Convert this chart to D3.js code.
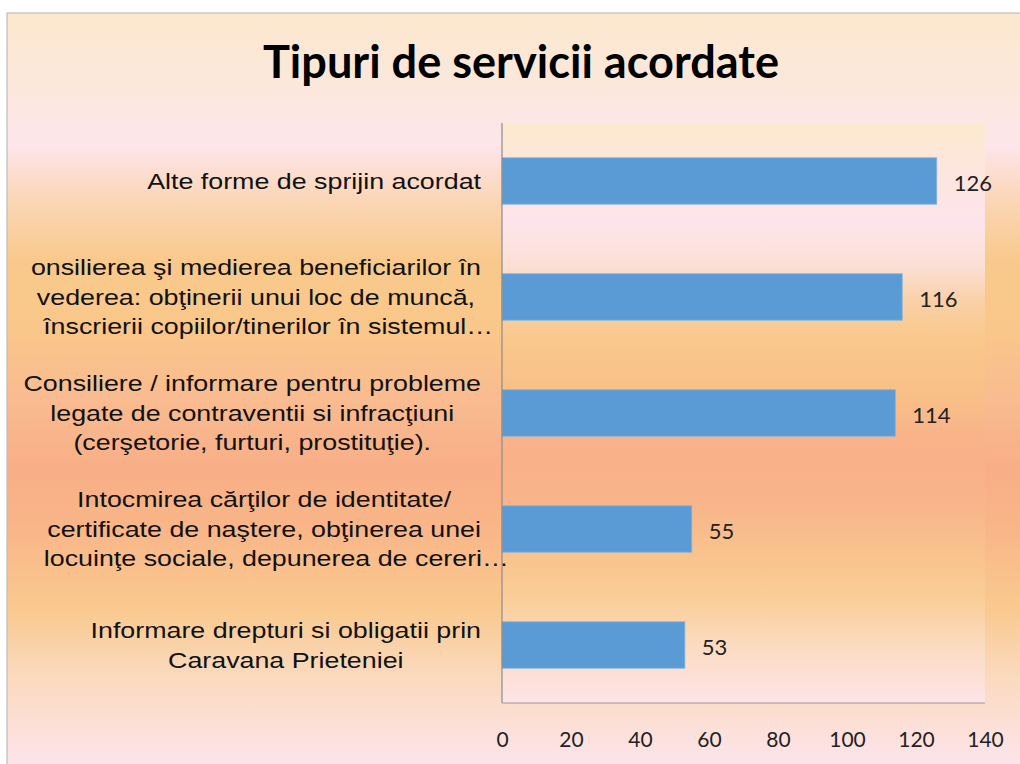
<!DOCTYPE html>
<html>
<head>
<meta charset="utf-8">
<script src="https://cdn.jsdelivr.net/npm/d3@7"></script>
<style>
  body { margin: 0; background: #fff; }
  svg { display: block; }
</style>
</head>
<body>
<div id="chart"></div>
<script>
// data, top to bottom as in the chart
var categories = [
  "Alte forme de sprijin acordat",
  "onsilierea şi medierea beneficiarilor în\nvederea: obţinerii unui loc de muncă,\nînscrierii copiilor/tinerilor în sistemul…",
  "Consiliere / informare pentru probleme\nlegate de contraventii si infracţiuni\n(cerşetorie, furturi, prostituţie).",
  "Intocmirea cărţilor de identitate/\ncertificate de naştere, obţinerea unei\nlocuinţe sociale, depunerea de cereri…",
  "Informare drepturi si obligatii prin\nCaravana Prieteniei"
];
var values = [126, 116, 114, 55, 53];
var xTicks = [0, 20, 40, 60, 80, 100, 120, 140];
var title = "Tipuri de servicii acordate";

var W = 1020, H = 764;
var margin = { top: 123, right: 35, bottom: 61, left: 502 };

var svg = d3.select("#chart").append("svg")
    .attr("width", W)
    .attr("height", H);

var defs = svg.append("defs");

function addGradient(id, y1, y2, stops) {
  var g = defs.append("linearGradient")
      .attr("id", id)
      .attr("gradientUnits", "userSpaceOnUse")
      .attr("x1", 0).attr("x2", 0)
      .attr("y1", y1).attr("y2", y2);
  stops.forEach(function(s) {
    g.append("stop")
      .attr("offset", (s[0] - y1) / (y2 - y1))
      .attr("stop-color", s[1]);
  });
}

// outer chart area fill
addGradient("bgOuter", 13, 764, [
  [13, "#FBE8CD"], [90, "#FCE7DC"], [145, "#FDE5EB"], [200, "#FBD6B6"],
  [260, "#F9C98C"], [330, "#F9C78A"], [400, "#F9BB90"], [470, "#F8AE86"],
  [530, "#F9B688"], [610, "#F9CA90"], [680, "#FBDAC0"], [764, "#FDE4EA"]
]);
// plot area fill
addGradient("bgPlot", 123, 703, [
  [123, "#FCEACC"], [160, "#FDE6DC"], [220, "#FDE4EA"], [265, "#FCE0D6"],
  [300, "#FAD0A8"], [340, "#F9C88A"], [400, "#F9BE88"], [450, "#F8B088"],
  [500, "#F8B48A"], [560, "#F9C48E"], [600, "#F9CE98"], [650, "#FCDCC4"],
  [703, "#FDE4E8"]
]);

svg.append("rect")
    .attr("x", 7).attr("y", 13)
    .attr("width", W).attr("height", H)
    .attr("fill", "url(#bgOuter)")
    .attr("stroke", "#BDBDBD")
    .attr("stroke-width", 1.2);

svg.append("text")
    .attr("x", 521)
    .attr("y", 78)
    .attr("text-anchor", "middle")
    .attr("textLength", 516)
    .attr("lengthAdjust", "spacingAndGlyphs")
    .style("font-family", "Lato, 'Open Sans', sans-serif")
    .style("font-weight", "bold")
    .style("font-size", "46px")
    .style("fill", "#000")
    .text(title);

var width = W - margin.left - margin.right,
    height = H - margin.top - margin.bottom;

var x = d3.scaleLinear()
    .domain([0, 140])
    .range([margin.left, margin.left + width]);

var y = d3.scaleBand()
    .domain(categories)
    .range([margin.top, margin.top + height])
    .paddingInner(0.6)
    .paddingOuter(0.3);

svg.append("rect")
    .attr("x", x(0))
    .attr("y", margin.top)
    .attr("width", width)
    .attr("height", height)
    .attr("fill", "url(#bgPlot)");

svg.selectAll(".bar")
    .data(values)
    .enter().append("rect")
      .attr("class", "bar")
      .attr("x", x(0))
      .attr("y", function(d, i) { return y(categories[i]); })
      .attr("width", function(d) { return x(d) - x(0); })
      .attr("height", y.bandwidth())
      .attr("fill", "#5B9BD5")
      .attr("stroke", "#7FB2E0")
      .attr("stroke-width", 0.8);

svg.selectAll(".val")
    .data(values)
    .enter().append("text")
      .attr("class", "val")
      .attr("x", function(d) { return x(d) + 17; })
      .attr("y", function(d, i) { return y(categories[i]) + y.bandwidth() / 2 + 2; })
      .attr("dy", "0.35em")
      .style("font-family", "Lato, 'Open Sans', sans-serif")
      .style("font-size", "22px")
      .style("fill", "#222")
      .text(function(d) { return d; });

// plot borders (left + bottom)
svg.append("line")
    .attr("x1", x(0)).attr("x2", x(0))
    .attr("y1", margin.top).attr("y2", margin.top + height)
    .style("stroke", "#8C8C8C").style("stroke-width", 1.2);
svg.append("line")
    .attr("x1", x(0)).attr("x2", x(140))
    .attr("y1", margin.top + height).attr("y2", margin.top + height)
    .style("stroke", "#9A9A9A").style("stroke-width", 1.2);

var xAxis = svg.append("g")
    .attr("transform", "translate(0," + (margin.top + height) + ")")
    .call(d3.axisBottom(x).tickValues(xTicks).tickSize(0).tickPadding(29));
xAxis.select(".domain").remove();
xAxis.selectAll("text")
    .style("font-family", "Lato, 'Open Sans', sans-serif")
    .style("font-size", "21px")
    .style("fill", "#222");

// category labels: lines centred inside a right-aligned box,
// stretched sideways like the source picture; truncated lines hang a bit right
var labelRight = 481, lineH = 29.5, sx = 1.22, hang = 10;
var labels = svg.selectAll(".catLabel")
    .data(categories)
    .enter().append("g")
      .attr("class", "catLabel")
      .attr("transform", function(d) {
        return "translate(" + labelRight + "," + (y(d) + y.bandwidth() / 2) + ") scale(" + sx + ",1)";
      });

labels.each(function(d) {
  var g = d3.select(this),
      lines = d.split("\n");
  var t = g.selectAll("text")
      .data(lines)
      .enter().append("text")
        .attr("y", function(l, i) { return (i - (lines.length - 1) / 2) * lineH; })
        .attr("dy", "0.36em")
        .attr("text-anchor", "middle")
        .style("font-family", "'Liberation Sans', Arial, sans-serif")
        .style("font-size", "22px")
        .style("fill", "#111")
        .text(function(l) { return l; });
  var maxW = 0;
  t.each(function(l) {
    if (l.slice(-1) !== "…") maxW = Math.max(maxW, this.getComputedTextLength());
  });
  t.attr("x", function(l) { return -maxW / 2 + (l.slice(-1) === "…" ? hang : 0); });
});
</script>
</body>
</html>
